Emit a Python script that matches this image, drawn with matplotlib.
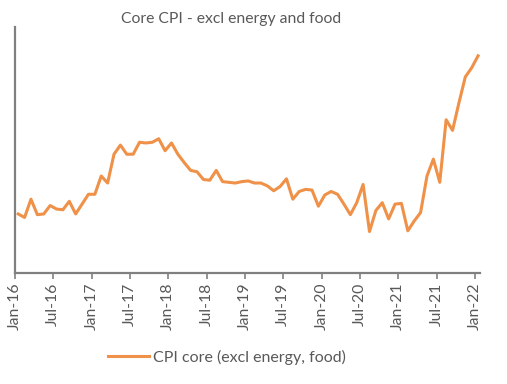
import matplotlib
matplotlib.use("Agg")
import matplotlib.pyplot as plt
from matplotlib.lines import Line2D

title = "Core CPI - excl energy and food"
series_name = "CPI core (excl energy, food)"
tick_labels = ["Jan-16", "Jul-16", "Jan-17", "Jul-17", "Jan-18", "Jul-18", "Jan-19",
               "Jul-19", "Jan-20", "Jul-20", "Jan-21", "Jul-21", "Jan-22"]
# monthly values Jan-16 .. Jan-22
values = [0.84, 0.79, 1.05, 0.83, 0.84, 0.96, 0.91, 0.90, 1.02, 0.84, 0.98, 1.12,
          1.12, 1.38, 1.28, 1.69, 1.82, 1.69, 1.69, 1.86, 1.85, 1.86, 1.91, 1.74,
          1.85, 1.69, 1.57, 1.46, 1.44, 1.33, 1.32, 1.46, 1.30, 1.29, 1.28, 1.30,
          1.31, 1.28, 1.28, 1.24, 1.17, 1.23, 1.34, 1.05, 1.16, 1.19, 1.18, 0.95,
          1.11, 1.16, 1.12, 0.98, 0.83, 1.00, 1.26, 0.59, 0.89, 1.00, 0.77, 0.98,
          0.99, 0.60, 0.74, 0.86, 1.38, 1.62, 1.29, 2.18, 2.03, 2.42, 2.79, 2.92,
          3.09]

plt.rcParams['font.family'] = ['Lato', 'DejaVu Sans']
gray = '#595959'
axis_col = '#808080'
line_col = '#EF9148'

fig = plt.figure(figsize=(5.07, 3.84), dpi=100)
ax = fig.add_axes([15/507, 1 - 273/384, (480-15)/507, (273-27)/384])

x = [i + 0.5 for i in range(len(values))]
ax.plot(x, values, color=line_col, lw=2.2, solid_joinstyle='round')

ax.set_xlim(0, 72.8)
ax.set_ylim(0, 3.5)
ax.set_xticks(range(0, 73, 6))
ax.set_xticklabels(tick_labels, rotation=90, color=gray, fontsize=11.3)
ax.set_yticks([])
for s in ['top', 'right']:
    ax.spines[s].set_visible(False)
for s in ['left', 'bottom']:
    ax.spines[s].set_color(axis_col)
    ax.spines[s].set_linewidth(1.6)
ax.tick_params(axis='x', length=4, width=1.2, color=axis_col, pad=3)

fig.text(231/507, 1 - 19/384, title, ha='center', va='center', color=gray, fontsize=11.3)

handle = Line2D([0], [0], color=line_col, lw=2.2)
fig.legend([handle], [series_name], loc='center', bbox_to_anchor=(227/507, 1 - 357/384),
           frameon=False, fontsize=11.5, labelcolor=gray, handlelength=2.6, handletextpad=0.25)

fig.savefig('out.png', dpi=100)
